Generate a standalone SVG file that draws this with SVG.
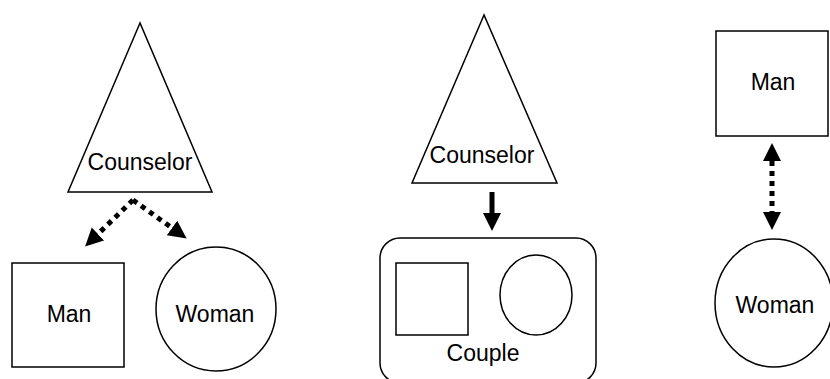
<svg xmlns="http://www.w3.org/2000/svg" width="830" height="379" viewBox="0 0 830 379">
  <style>
    .shape { fill: #ffffff; stroke: #000000; stroke-width: 1.5; }
    .label { font-family: "Liberation Sans", Arial, sans-serif; font-size: 23px; fill: #000000; text-anchor: middle; }
    .dotted { stroke: #000000; stroke-width: 5; stroke-dasharray: 5 5; fill: none; }
    .solid { stroke: #000000; stroke-width: 5; fill: none; }
  </style>
  <defs>
    <marker id="head" markerUnits="userSpaceOnUse" markerWidth="20" markerHeight="20" refX="0" refY="9" orient="auto-start-reverse" viewBox="0 0 20 20">
      <path d="M0,0 L18,9 L0,18 z" fill="#000000"/>
    </marker>
  </defs>
  <rect width="830" height="379" fill="#ffffff"/>

  <g id="counselor-1">
    <polygon class="shape" points="140,23 68,192 212,192"/>
    <text class="label" x="140" y="170">Counselor</text>
  </g>
  <g id="man-1">
    <rect class="shape" x="12" y="263" width="112" height="104"/>
    <text class="label" x="69" y="322">Man</text>
  </g>
  <g id="woman-1">
    <ellipse class="shape" cx="216" cy="309" rx="60" ry="62"/>
    <text class="label" x="215" y="322">Woman</text>
  </g>

  <g id="counselor-2">
    <polygon class="shape" points="484,15 412,183 557,183"/>
    <text class="label" x="482" y="163">Counselor</text>
  </g>
  <g id="couple">
    <rect class="shape" x="380" y="238" width="216" height="145" rx="20" ry="20"/>
    <rect class="shape" x="396" y="263" width="72" height="72"/>
    <ellipse class="shape" cx="536" cy="295" rx="36" ry="40"/>
    <text class="label" x="483" y="361">Couple</text>
  </g>

  <g id="man-3">
    <rect class="shape" x="716" y="31" width="112" height="105"/>
    <text class="label" x="773" y="90">Man</text>
  </g>
  <g id="woman-3">
    <ellipse class="shape" cx="774" cy="303" rx="59" ry="64"/>
    <text class="label" x="775" y="313">Woman</text>
  </g>

  <g id="connectors">
    <line class="dotted" x1="133" y1="200" x2="98" y2="234" marker-end="url(#head)"/>
    <line class="dotted" x1="133" y1="200" x2="172" y2="228" marker-end="url(#head)"/>
    <line class="solid" x1="492" y1="192" x2="492" y2="213" marker-end="url(#head)"/>
    <line class="dotted" x1="772" y1="161" x2="772" y2="212" marker-start="url(#head)" marker-end="url(#head)"/>
  </g>
</svg>
